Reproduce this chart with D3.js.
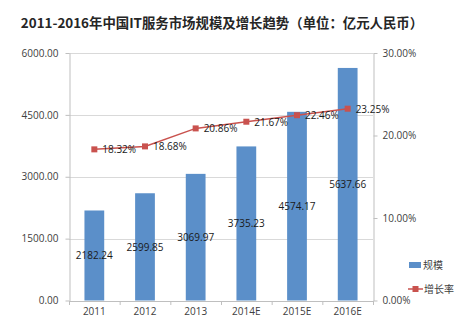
<!DOCTYPE html>
<html><head><meta charset="utf-8">
<script src="https://cdn.jsdelivr.net/npm/d3@7"></script>
<style>body{margin:0;background:#fff}svg{display:block}text{font-family:"Noto Sans CJK SC","Noto Sans",sans-serif}</style>
</head><body>
<svg id="c" width="463" height="328"></svg>
<script>
const categories = ["2011","2012","2013","2014E","2015E","2016E"];
const scaleValues = [2182.24,2599.85,3069.97,3735.23,4574.17,5637.66];
const growthValues = [18.32,18.68,20.86,21.67,22.46,23.25];
const leftTicks = [0,1500,3000,4500,6000];
const rightTicks = [0,10,20,30];
const seriesNames = ["规模","增长率"];
const title = "2011-2016年中国IT服务市场规模及增长趋势（单位：亿元人民币）";

const svg = d3.select("#c");
const L=69, R=373, T=53, B=300.5;
const x = d3.scaleBand().domain(categories).range([L,R]).paddingInner(0.61).paddingOuter(0.305);
const xc = d3.scaleBand().domain(categories).range([L,R]);
const y = d3.scaleLinear().domain([0,6000]).range([B,T]);
const y2 = d3.scaleLinear().domain([0,30]).range([B,T]);
const blue="#5b8fc9", red="#c9524e", grid="#d9d9d9", axisC="#bfbfbf", tc="#404040";

svg.append("text").attr("x",222).attr("y",28).attr("text-anchor","middle")
  .attr("font-size",13.4).attr("font-weight","bold").attr("fill","#262626").text(title);

// gridlines
svg.append("g").selectAll("line").data(leftTicks.slice(1)).join("line")
  .attr("x1",L).attr("x2",R).attr("y1",d=>Math.round(y(d))+0.5).attr("y2",d=>Math.round(y(d))+0.5)
  .attr("stroke",grid);

// left axis
const gl = svg.append("g").attr("transform",`translate(${L+0.5},0)`)
  .call(d3.axisLeft(y).tickValues(leftTicks).tickFormat(d3.format(".2f")).tickSize(4).tickSizeOuter(0));
gl.select(".domain").attr("stroke",axisC);
gl.selectAll(".tick line").attr("stroke",axisC);
gl.selectAll(".tick text").attr("font-size",10).attr("fill",tc).attr("x",-11).style("font-family","'Open Sans',sans-serif");

// right axis
const gr = svg.append("g").attr("transform",`translate(${R+0.5},0)`)
  .call(d3.axisRight(y2).tickValues(rightTicks).tickFormat(d=>d3.format(".2f")(d)+"%").tickSize(4).tickSizeOuter(0));
gr.select(".domain").attr("stroke",axisC);
gr.selectAll(".tick line").attr("stroke",axisC);
gr.selectAll(".tick text").attr("font-size",10).attr("fill",tc).attr("x",9).style("font-family","'Open Sans',sans-serif");

// bars
svg.append("g").selectAll("rect").data(scaleValues).join("rect")
  .attr("x",(d,i)=>x(categories[i])).attr("width",x.bandwidth())
  .attr("y",d=>y(d)).attr("height",d=>B-y(d)).attr("fill",blue);

// x axis
const gx = svg.append("g").attr("transform",`translate(0,${B+0.5})`)
  .call(d3.axisBottom(xc).tickSize(0).tickSizeOuter(0));
gx.select(".domain").attr("stroke",axisC);
gx.selectAll(".tick text").attr("font-size",10).attr("fill",tc).attr("dy","1.1em").style("font-family","'Open Sans',sans-serif");
gx.append("g").selectAll("line").data(d3.range(categories.length+1)).join("line")
  .attr("x1",i=>L+i*xc.step()+0.5).attr("x2",i=>L+i*xc.step()+0.5).attr("y1",0).attr("y2",4).attr("stroke",axisC);

// bar labels
svg.append("g").selectAll("text").data(scaleValues).join("text")
  .attr("x",(d,i)=>xc(categories[i])+xc.bandwidth()/2).attr("y",d=>(y(d)+B)/2+4)
  .attr("text-anchor","middle").attr("font-size",10).attr("fill","#1a1a1a")
  .style("font-family","'Open Sans',sans-serif").text(d=>d.toFixed(2));

// line
const cx = (d,i)=>xc(categories[i])+xc.bandwidth()/2;
svg.append("path").datum(growthValues)
  .attr("d",d3.line().x(cx).y(d=>y2(d))).attr("fill","none").attr("stroke",red).attr("stroke-width",1.5);
svg.append("g").selectAll("rect").data(growthValues).join("rect")
  .attr("x",(d,i)=>cx(d,i)-3).attr("y",d=>y2(d)-3).attr("width",6).attr("height",6).attr("fill",red);
svg.append("g").selectAll("text").data(growthValues).join("text")
  .attr("x",(d,i)=>cx(d,i)+8).attr("y",d=>y2(d)+4).attr("font-size",10).attr("fill","#1a1a1a")
  .style("font-family","'Open Sans',sans-serif").text(d=>d.toFixed(2)+"%");

// legend
const lg = svg.append("g");
lg.append("rect").attr("x",409).attr("y",262).attr("width",12).attr("height",6).attr("fill",blue);
lg.append("text").attr("x",423).attr("y",269).attr("font-size",10).attr("fill",tc).text(seriesNames[0]);
lg.append("line").attr("x1",408).attr("x2",423).attr("y1",289).attr("y2",289).attr("stroke",red).attr("stroke-width",1.5);
lg.append("rect").attr("x",412.5).attr("y",286).attr("width",6).attr("height",6).attr("fill",red);
lg.append("text").attr("x",424).attr("y",293).attr("font-size",10).attr("fill",tc).text(seriesNames[1]);
</script>
</body></html>
